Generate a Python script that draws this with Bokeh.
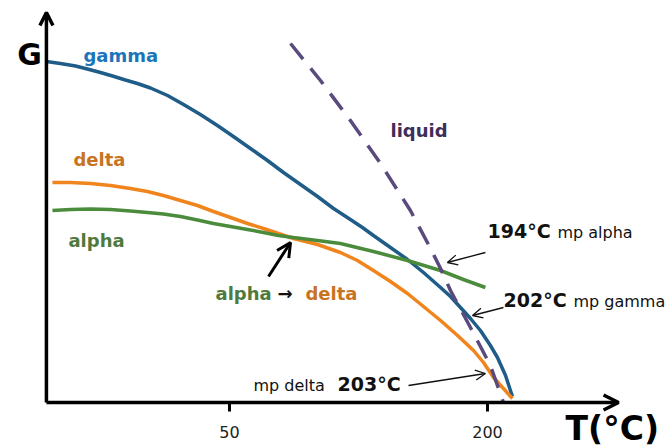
from bokeh.plotting import figure
from bokeh.models import Arrow, OpenHead, FixedTicker, ColumnDataSource
from bokeh.core.properties import value
from bokeh.embed import file_html
from bokeh.resources import INLINE

# ---- data (T in degC on the schematic scale, G in arbitrary units) ----
gamma_T = [-56.4, -48.3, -39.5, -32.6, -25.0, -18.0, -10.5, -3.5, 4.1, 14.0, 23.3, 33.1, 43.0,
           52.3, 62.2, 72.1, 81.4, 91.3, 101.2, 110.5, 120.3, 127.3, 133.7, 143.6, 153.5,
           162.8, 172.7, 178.5, 184.3, 190.1, 195.9, 201.7, 205.8, 210.5, 214.5]
gamma_G = [341, 339, 336.5, 333.5, 330, 326.5, 322.5, 319, 314.5, 307, 298, 288, 277,
           266, 254, 242, 230, 218, 206, 194, 183, 175, 167, 155, 143,
           130, 115, 106, 95, 84, 72, 57, 45, 27, 6]

delta_T = [-52.9, -42.4, -30.8, -19.2, -7.6, 2.3, 11.6, 21.5, 31.4, 40.7, 50.6, 60.5, 69.8,
           78.5, 87.2, 101.2, 114.5, 124.4, 133.7, 143.6, 153.5, 162.8, 172.7, 182.6,
           191.9, 197.7, 203.5, 209.3, 214.5]
delta_G = [220, 220, 219, 217, 214, 211, 207, 202, 197, 191, 185, 179, 174,
           169, 164, 158, 150, 142, 132, 121, 109, 96, 82, 67,
           52, 40, 25, 14, 4]

alpha_T = [-52.9, -42.4, -30.8, -19.2, -7.6, 2.3, 11.6, 21.5, 31.4, 40.7, 50.6, 60.5, 69.8,
           78.5, 87.2, 101.2, 114.5, 133.7, 153.5, 172.7, 186.0, 198.8]
alpha_G = [192, 193, 193.5, 193, 191.5, 190, 188.5, 186, 182.5, 179, 176, 173, 170,
           167, 165, 162, 159, 151, 142, 132, 123, 115]

liquid_T = [85.5, 102.9, 120.3, 137.8, 155.2, 166.9, 172.7, 178.5, 190.1, 201.7, 209.3]
liquid_G = [359, 322, 282, 239, 192, 154, 134, 112, 75, 37, 0]

tick_values = [50, 200]

# axis geometry (origin and arrow tips)
axis_origin_T = -56.4
axis_x_end_T = 276.2
axis_y_end_G = 390

# annotation texts
label_text = ["gamma", "delta", "alpha", "liquid"]
label_T = [-34.9, -40.7, -43.6, 143.6]
label_G = [347, 243, 162, 272]
label_color = ["#1b75bb", "#c8731f", "#4f7a3c", "#3f2e5a"]

bold_text = ["G", "T(°C)", "194°C", "202°C", "203°C", "alpha", "→", "delta"]
bold_T = [-73.3, 245.4, 200.0, 209.3, 112.8, 41.9, 77.9, 94.2]
bold_G = [348, -26, 172, 103, 19, 109, 109, 109]
bold_size = ["30px", "33px", "19px", "19px", "19px", "18px", "18px", "18px"]
bold_color = ["#000000", "#000000", "#111111", "#111111", "#111111", "#4f7a3c", "#111111", "#c8731f"]

plain_text = ["mp alpha", "mp gamma", "mp delta"]
plain_T = [240.7, 250.0, 64.0]
plain_G = [170, 101, 17]

# pointer arrows: (T_start, G_start, T_end, G_end)
thin_arrows = [
    (198.8, 150, 176.7, 140),
    (209.3, 95, 191.3, 87),
    (154.1, 17, 198.8, 29),
]
thick_arrow = (72.7, 126, 85.5, 160)

# ---- figure ----
p = figure(width=670, height=447, x_range=(-83.1, 306.4), y_range=(-45, 402),
           output_backend="svg", toolbar_location=None, min_border=0,
           y_axis_location=None)
p.grid.visible = False
p.outline_line_color = None
p.background_fill_color = "white"

ax = p.xaxis[0]
ax.fixed_location = 0
ax.ticker = FixedTicker(ticks=tick_values)
ax.axis_line_color = None
ax.major_tick_line_width = 3
ax.major_tick_line_color = "black"
ax.major_tick_out = 9
ax.major_tick_in = 0
ax.minor_tick_line_color = None
ax.major_label_text_font = "DejaVu Sans"
ax.major_label_text_font_size = "16px"
ax.major_label_text_color = "#222222"
ax.major_label_standoff = 14

# curves
p.line(gamma_T, gamma_G, line_width=3.5, color="#1f5c87")
p.line(delta_T, delta_G, line_width=3.5, color="#f0851d")
p.line(alpha_T, alpha_G, line_width=3.5, color="#4b8c3c")
p.line(liquid_T, liquid_G, line_width=3.5, color="#5a4a7d", line_dash="20 12")

# axes arrows
p.add_layout(Arrow(end=OpenHead(size=13, line_width=3.5, line_color="black"),
                   x_start=axis_origin_T, y_start=0, x_end=axis_origin_T, y_end=axis_y_end_G,
                   line_width=3.5, line_color="black"))
p.add_layout(Arrow(end=OpenHead(size=15, line_width=3.5, line_color="black"),
                   x_start=axis_origin_T, y_start=0, x_end=axis_x_end_T, y_end=0,
                   line_width=3.5, line_color="black"))

for (xs, ys, xe, ye) in thin_arrows:
    p.add_layout(Arrow(end=OpenHead(size=10, line_width=1.3, line_color="#111111"),
                       x_start=xs, y_start=ys, x_end=xe, y_end=ye,
                       line_width=1.3, line_color="#111111"))
xs, ys, xe, ye = thick_arrow
p.add_layout(Arrow(end=OpenHead(size=14, line_width=3, line_color="black"),
                   x_start=xs, y_start=ys, x_end=xe, y_end=ye,
                   line_width=3, line_color="black"))

# texts
src1 = ColumnDataSource(dict(x=label_T, y=label_G, text=label_text, color=label_color))
p.text(x="x", y="y", text="text", source=src1, text_color="color",
       text_font=value("DejaVu Sans"), text_font_style="bold", text_font_size="18px",
       text_baseline="alphabetic", text_align="left")

src2 = ColumnDataSource(dict(x=bold_T, y=bold_G, text=bold_text, size=bold_size, color=bold_color))
p.text(x="x", y="y", text="text", source=src2, text_color="color",
       text_font=value("DejaVu Sans"), text_font_style="bold", text_font_size="size",
       text_baseline="alphabetic", text_align="left")

src3 = ColumnDataSource(dict(x=plain_T, y=plain_G, text=plain_text))
p.text(x="x", y="y", text="text", source=src3, text_color="#111111",
       text_font=value("DejaVu Sans"), text_font_size="16px",
       text_baseline="alphabetic", text_align="left")

open("out.html", "w").write(file_html(p, INLINE))
